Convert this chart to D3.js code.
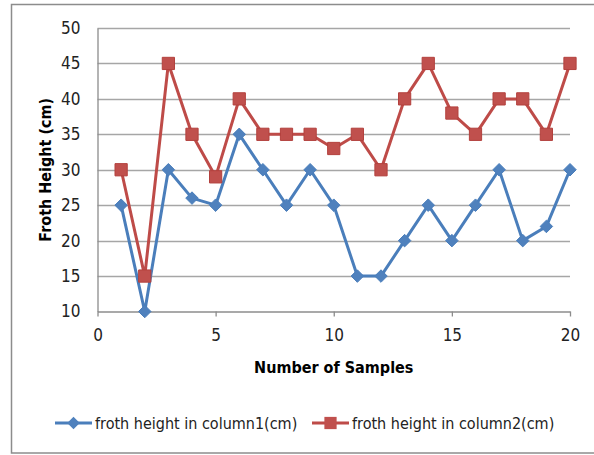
<!DOCTYPE html>
<html>
<head>
<meta charset="utf-8">
<script src="https://cdn.jsdelivr.net/npm/d3@7"></script>
<style>
  body { margin: 0; background: #fff; }
  text { font-family: "Liberation Sans Narrow", "DejaVu Sans Condensed", "Liberation Sans", sans-serif; }
</style>
</head>
<body>
<div id="chart"></div>
<script>
// samples 1..20
var samples = [1,2,3,4,5,6,7,8,9,10,11,12,13,14,15,16,17,18,19,20];
var column1 = [25,10,30,26,25,35,30,25,30,25,15,15,20,25,20,25,30,20,22,30];
var column2 = [30,15,45,35,29,40,35,35,35,33,35,30,40,45,38,35,40,40,35,45];
var xTicks = [0,5,10,15,20];
var yTicks = [10,15,20,25,30,35,40,45,50];
var seriesNames = ["froth height in column1(cm)", "froth height in column2(cm)"];

var w = 594, h = 455;
var svg = d3.select("#chart").append("svg")
	.attr("width", w)
	.attr("height", h);

// outer chart border
svg.append("rect")
	.attr("x", 11.5).attr("y", 4.5)
	.attr("width", 620).attr("height", 448.5)
	.attr("fill", "none")
	.attr("stroke", "#8c8c8c")
	.attr("stroke-width", 1.5);

var plotLeft = 97.5, plotRight = 570, plotTop = 28, plotBottom = 311.5;

var x = d3.scaleLinear().domain([0, 20]).range([plotLeft, plotRight]);
var y = d3.scaleLinear().domain([10, 50]).range([plotBottom, plotTop]);

// gridlines
svg.selectAll(".grid")
	.data(yTicks.filter(function(d) { return d > 10; }))
	.enter().append("line")
	.attr("x1", plotLeft).attr("x2", plotRight)
	.attr("y1", function(d) { return Math.round(y(d)) + 0.5; })
	.attr("y2", function(d) { return Math.round(y(d)) + 0.5; })
	.attr("stroke", "#a6a6a6")
	.attr("stroke-width", 1.3);

// y axis
var yAxis = svg.append("g")
	.attr("transform", "translate(" + plotLeft + ",0)")
	.call(d3.axisLeft(y).tickValues(yTicks).tickSize(0).tickPadding(17));
yAxis.select(".domain").attr("stroke", "#8c8c8c").attr("stroke-width", 1.3);
yAxis.selectAll("text").attr("font-size", "17px").attr("fill", "#222");

// x axis
var xAxis = svg.append("g")
	.attr("transform", "translate(0," + plotBottom + ")")
	.call(d3.axisBottom(x).tickValues(xTicks).tickSizeInner(5).tickSizeOuter(0).tickPadding(12));
xAxis.select(".domain").attr("stroke", "#8c8c8c").attr("stroke-width", 1.3);
xAxis.selectAll("line").attr("stroke", "#8c8c8c").attr("stroke-width", 1.3);
xAxis.selectAll("text").attr("font-size", "17px").attr("fill", "#222");

// axis titles
svg.append("text")
	.attr("x", (plotLeft + plotRight) / 2).attr("y", 373)
	.attr("text-anchor", "middle")
	.attr("font-size", "16px").attr("font-weight", "bold")
	.text("Number of Samples");

svg.append("text")
	.attr("transform", "translate(51," + ((plotTop + plotBottom) / 2) + ") rotate(-90)")
	.attr("text-anchor", "middle")
	.attr("font-size", "16px").attr("font-weight", "bold")
	.text("Froth Height (cm)");

var line = d3.line()
	.x(function(d, i) { return x(samples[i]); })
	.y(function(d) { return y(d); });

var blue = "#4a7ebb", blueFill = "#4f81bd";
var red = "#be4b48", redFill = "#c0504d";

svg.append("path").datum(column2)
	.attr("d", line).attr("fill", "none")
	.attr("stroke", red).attr("stroke-width", 3).attr("stroke-linejoin", "round");
svg.append("path").datum(column1)
	.attr("d", line).attr("fill", "none")
	.attr("stroke", blue).attr("stroke-width", 3).attr("stroke-linejoin", "round");

var diamond = d3.symbol().type(d3.symbolDiamond2).size(100);
var square = d3.symbol().type(d3.symbolSquare).size(150);

svg.selectAll(".sq")
	.data(column2).enter().append("path")
	.attr("d", square)
	.attr("transform", function(d, i) { return "translate(" + x(samples[i]) + "," + y(d) + ")"; })
	.attr("fill", redFill).attr("stroke", "#b3403d").attr("stroke-width", 1);

svg.selectAll(".dm")
	.data(column1).enter().append("path")
	.attr("d", diamond)
	.attr("transform", function(d, i) { return "translate(" + x(samples[i]) + "," + y(d) + ")"; })
	.attr("fill", blueFill).attr("stroke", blue).attr("stroke-width", 1);

// legend
var legendX = [55, 312];
var legend = svg.selectAll(".legend")
	.data(seriesNames).enter().append("g")
	.attr("transform", function(d, i) { return "translate(" + legendX[i] + ",423)"; });

legend.append("line")
	.attr("x1", 0).attr("x2", 37).attr("y1", 0).attr("y2", 0)
	.attr("stroke", function(d, i) { return i ? red : blue; })
	.attr("stroke-width", 3);
legend.append("path")
	.attr("d", function(d, i) { return i ? square() : diamond(); })
	.attr("transform", "translate(18.5,0)")
	.attr("fill", function(d, i) { return i ? redFill : blueFill; });
legend.append("text")
	.attr("x", 40).attr("y", 0).attr("dy", "0.35em")
	.attr("font-size", "16px").attr("fill", "#222")
	.text(function(d) { return d; });
</script>
</body>
</html>
